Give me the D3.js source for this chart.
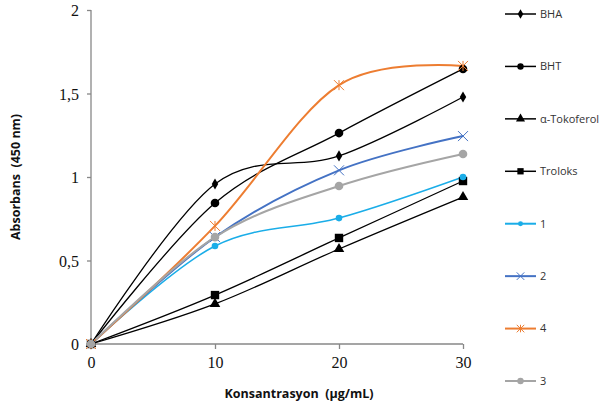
<!DOCTYPE html>
<html><head><meta charset="utf-8">
<script src="https://cdn.jsdelivr.net/npm/d3@7"></script>
<style>body{margin:0;background:#fff}svg{display:block}text{white-space:pre}</style>
</head><body>
<svg id="c" width="601" height="409"></svg>
<script>
const xValues = [0, 10, 20, 30];
const seriesNames = ["BHA", "BHT", "α-Tokoferol", "Troloks", "1", "2", "4", "3"];
const bha = [0, 0.958, 1.126, 1.479];
const bht = [0, 0.844, 1.263, 1.647];
const tokoferol = [0, 0.24, 0.569, 0.88];
const troloks = [0, 0.293, 0.635, 0.976];
const s1 = [0, 0.587, 0.754, 1.0];
const s2 = [0, 0.64, 1.04, 1.245];
const s4 = [0, 0.707, 1.55, 1.665];
const s3 = [0, 0.64, 0.946, 1.138];
const yTicks = [0, 0.5, 1, 1.5, 2];
const yTickLabels = ["0", "0,5", "1", "1,5", "2"];
const xTicks = [0, 10, 20, 30];

const series = [
  {name: "BHA", values: bha, color: "#000", marker: "diamond", w: 1.3},
  {name: "BHT", values: bht, color: "#000", marker: "circle", w: 1.3},
  {name: "α-Tokoferol", values: tokoferol, color: "#000", marker: "triangle", w: 1.3},
  {name: "Troloks", values: troloks, color: "#000", marker: "square", w: 1.3},
  {name: "1", values: s1, color: "#1AADE8", marker: "smallcircle", w: 1.5},
  {name: "2", values: s2, color: "#4472C4", marker: "x", w: 2},
  {name: "4", values: s4, color: "#ED7D31", marker: "star", w: 2},
  {name: "3", values: s3, color: "#A5A5A5", marker: "circle", w: 2}
];

const svg = d3.select("#c");
const x = d3.scaleLinear().domain([0, 30]).range([91, 463]);
const y = d3.scaleLinear().domain([0, 2]).range([344, 10]);

const sans = "'Open Sans', 'Noto Sans', sans-serif";
const axisColor = "#878787";
const yAxis = svg.append("g").attr("transform", "translate(91,0)")
  .call(d3.axisLeft(y).tickValues(yTicks).tickSize(4).tickFormat((d, i) => yTickLabels[i]));
const xAxis = svg.append("g").attr("transform", "translate(0,344)")
  .call(d3.axisBottom(x).tickValues(xTicks).tickSize(5).tickFormat(d3.format("d")));
[yAxis, xAxis].forEach(a => {
  a.selectAll("path,line").attr("stroke", axisColor).attr("stroke-width", 1.3);
  a.selectAll("text").attr("fill", "#111").style("font-family", "'Liberation Serif', 'Times New Roman', serif").style("font-size", "16px");
});
yAxis.select(".domain").attr("d", "M0,10V344");
xAxis.select(".domain").attr("d", "M91,0H463");
yAxis.selectAll("text").attr("x", -12).attr("dy", "0.35em");
xAxis.selectAll("text").attr("y", 13);

svg.append("text").attr("transform", "translate(16,177) rotate(-90)")
  .attr("text-anchor", "middle").style("font-family", sans)
  .style("font-size", "12.5px").style("font-weight", "bold").attr("fill", "#111")
  .attr("dy", "0.35em").text("Absorbans  (450 nm)");
svg.append("text").attr("x", 299).attr("y", 398)
  .attr("text-anchor", "middle").style("font-family", sans)
  .style("font-size", "12.5px").style("font-weight", "bold").attr("fill", "#111")
  .text("Konsantrasyon  (µg/mL)");

const line = d3.line().x((d, i) => x(xValues[i])).y(d => y(d)).curve(d3.curveCatmullRom.alpha(0));

function drawMarker(g, type, cx, cy, color, scale) {
  const s = scale || 1;
  if (type === "diamond") {
    g.append("path").attr("d", d3.symbol(d3.symbolDiamond, 36 * s)()).attr("transform", `translate(${cx},${cy})`).attr("fill", color);
  } else if (type === "circle") {
    g.append("circle").attr("cx", cx).attr("cy", cy).attr("r", 4.3 * s).attr("fill", color);
  } else if (type === "smallcircle") {
    g.append("circle").attr("cx", cx).attr("cy", cy).attr("r", 3.3 * s).attr("fill", color);
  } else if (type === "triangle") {
    g.append("path").attr("d", d3.symbol(d3.symbolTriangle, 48 * s)()).attr("transform", `translate(${cx},${cy})`).attr("fill", color);
  } else if (type === "square") {
    const h = 4.2 * s;
    g.append("rect").attr("x", cx - h).attr("y", cy - h).attr("width", 2 * h).attr("height", 2 * h).attr("fill", color);
  } else if (type === "x" || type === "star") {
    const h = 5 * s;
    g.append("path").attr("d", `M${cx-h},${cy-h}L${cx+h},${cy+h}M${cx-h},${cy+h}L${cx+h},${cy-h}` + (type === "star" ? `M${cx},${cy-h}V${cy+h}` : ""))
      .attr("stroke", color).attr("stroke-width", 1).attr("fill", "none");
  }
}

const plot = svg.append("g");
series.forEach(s => {
  plot.append("path").datum(s.values).attr("d", line).attr("fill", "none")
    .attr("stroke", s.color).attr("stroke-width", s.w);
});
series.forEach(s => {
  s.values.forEach((v, i) => drawMarker(plot, s.marker, x(xValues[i]), y(v), s.color));
});

const leg = svg.append("g");
const legY = d3.scalePoint().domain(seriesNames).range([14, 381]);
series.forEach(s => {
  const ly = legY(s.name);
  leg.append("line").attr("x1", 505).attr("x2", 536).attr("y1", ly).attr("y2", ly)
    .attr("stroke", s.color).attr("stroke-width", s.w === 1.3 ? 1.5 : 2);
  drawMarker(leg, s.marker, 520.5, ly, s.color, 0.75);
  leg.append("text").attr("x", 540).attr("y", ly).attr("dy", "0.35em")
    .style("font-family", sans).style("font-size", "11px")
    .attr("fill", "#333").text(s.name);
});
</script>
</body></html>
